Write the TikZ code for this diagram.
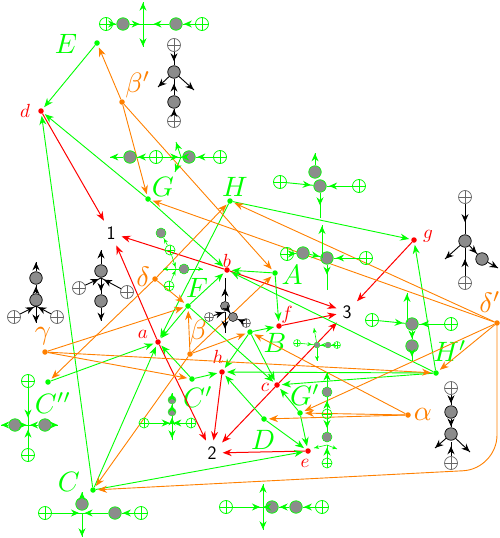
\documentclass[tikz,border=0pt]{standalone}
\usepackage{amsmath}
\usetikzlibrary{arrows.meta, decorations.markings}

\definecolor{limeg}{HTML}{00FF00}
\definecolor{orangeo}{HTML}{FF8000}
\newcommand{\biglab}[1]{\scalebox{2.8}{$#1$}}
\newcommand{\redlab}[1]{\scalebox{1.9}{$#1$}}
\tikzset{
    reddot/.style={circle, fill=red, inner sep=0pt, minimum size=5.5pt},
    greendot/.style={circle, fill=limeg, inner sep=0pt, minimum size=5.5pt},
    orangedot/.style={circle, fill=orangeo, inner sep=0pt, minimum size=5.5pt},
    redarrow/.style={red, line width=1pt, ->, shorten >=2pt},
    greenarrow/.style={limeg, line width=0.9pt, ->, shorten >=2pt},
    orangearrow/.style={orangeo, line width=0.9pt, ->, shorten >=2pt},
    redlabel/.style={text=red, inner sep=0pt},
    greenlabel/.style={text=limeg, inner sep=0pt},
    orangelabel/.style={text=orangeo, inner sep=0pt},
    numlabel/.style={inner sep=4pt, font=\sffamily\fontsize{19}{21}\selectfont},
    plusn/.style={circle, draw, inner sep=0pt, minimum size=#1, path picture={
        \draw (path picture bounding box.north) -- (path picture bounding box.south)
              (path picture bounding box.west) -- (path picture bounding box.east);}},
    gplus/.style={plusn=13pt, limeg, line width=0.8pt},
    gplusm/.style={plusn=10pt, limeg, line width=0.7pt},
    gpluss/.style={plusn=7pt, limeg, line width=0.5pt},
    kplus/.style={plusn=13pt, black!60, line width=0.7pt},
    kplusm/.style={plusn=9pt, black!60, line width=0.6pt},
    blobn/.style={circle, fill=gray!90, inner sep=0pt, minimum size=#1},
    gblob/.style={blobn=12.5pt, draw=limeg, line width=0.7pt},
    gblobm/.style={blobn=10pt, draw=limeg, line width=0.5pt},
    gblobn/.style={blobn=8pt, draw=limeg, line width=0.4pt},
    gblobs/.style={blobn=6pt, draw=limeg, line width=0.3pt},
    kblob/.style={blobn=12.5pt, draw=black, line width=0.7pt},
    kblobm/.style={blobn=9pt, draw=black, line width=0.5pt},
    midtip/.style={postaction={decorate}, decoration={markings,
        mark=at position #1 with {\arrow{Stealth[length=8pt, width=7pt]}}}},
    midtips/.style={postaction={decorate}, decoration={markings,
        mark=at position #1 with {\arrow{Stealth[length=4.5pt, width=4pt]}}}},
    gline/.style={limeg, line width=0.9pt},
    glines/.style={limeg, line width=0.6pt},
    kline/.style={black, line width=0.9pt},
}

\begin{document}
\begin{tikzpicture}[x=1pt, y=-1pt, >={Stealth[length=9pt, width=7pt]}]
    \path[use as bounding box] (0,0) rectangle (500,538);

    % main points
    \foreach \n/\x/\y in {a/158/342, b/227/270, c/277/385, d/41/111, e/308/451, f/279/326, g/414/240, h/222/372}
        \node[reddot] (\n) at (\x,\y) {};
    \foreach \n/\x/\y in {E/97/43, G/148/199, H/230/201, A/275/273, F/188/306, B/250/332, Cp/192/379, Cpp/48/382, C/93/490, D/264/419, Gp/300/413, Hp/436/373}
        \node[greendot] (\n) at (\x,\y) {};
    \foreach \n/\x/\y in {bep/122/102, del/155/279, bet/190/354, gam/45/352, alp/408/415, dep/497/323}
        \node[orangedot] (\n) at (\x,\y) {};
    \node[numlabel] (n1) at (111,233) {1};
    \node[numlabel] (n2) at (212,453) {2};
    \node[numlabel] (n3) at (347,312) {3};
    \coordinate (bend) at (497,469);

    % labels
    \node[redlabel] (ld) at (25,111) {\redlab{d}};
    \node[redlabel] (la) at (143,334) {\redlab{a}};
    \node[redlabel] (lb) at (227,261) {\redlab{b}};
    \node[redlabel] (lc) at (265,387) {\redlab{c}};
    \node[redlabel] (le) at (305,463) {\redlab{e}};
    \node[redlabel] (lf) at (287,315) {\redlab{f}};
    \node[redlabel] (lg) at (428,236) {\redlab{g}};
    \node[redlabel] (lh) at (218,357) {\redlab{h}};
    \node[greenlabel] (lE) at (66,44) {\biglab{E}};
    \node[greenlabel] (lG) at (163,187) {\biglab{G}};
    \node[greenlabel] (lH) at (235,187) {\biglab{H}};
    \node[greenlabel] (lA) at (292,275) {\biglab{A}};
    \node[greenlabel] (lF) at (197,288) {\biglab{F}};
    \node[greenlabel] (lB) at (275,343) {\biglab{B}};
    \node[greenlabel] (lCp) at (198,397) {\biglab{C'}};
    \node[greenlabel] (lCpp) at (53,403) {\biglab{C''}};
    \node[greenlabel] (lC) at (69,482) {\biglab{C}};
    \node[greenlabel] (lD) at (263,440) {\biglab{D}};
    \node[greenlabel] (lGp) at (305,395) {\biglab{G'}};
    \node[greenlabel] (lHp) at (450,351) {\biglab{H'}};
    \node[orangelabel] (lbep) at (138,85) {\biglab{\beta'}};
    \node[orangelabel] (ldel) at (143,277) {\biglab{\delta}};
    \node[orangelabel] (lbet) at (198,332) {\biglab{\beta}};
    \node[orangelabel] (lgam) at (43,336) {\biglab{\gamma}};
    \node[orangelabel] (lalp) at (423,414) {\biglab{\alpha}};
    \node[orangelabel] (ldep) at (490,302) {\biglab{\delta'}};

    % main arrows
    \foreach \a/\b in {d/n1, a/n1, b/n1, b/n3, f/n3, g/n3, c/n3, a/n2, h/n2, c/n2, e/n2}
        \draw[redarrow] (\a) -- (\b);
    \foreach \a/\b in {E/d, C/d, G/d, G/b, F/b, F/a, H/a, H/g, A/b, A/f, B/f, B/h, B/c, F/c, C/a, Cpp/a, Cp/a, Cp/h, D/h, D/e, Gp/c, Gp/e, C/e, Hp/b, Hp/g, Hp/h, Hp/c}
        \draw[greenarrow] (\a) -- (\b);
    \foreach \a/\b in {bep/E, bep/G, bep/A, del/H, del/F, del/Cpp, gam/F, gam/Cp, gam/Hp, bet/F, bet/B, bet/C, bet/A, alp/B, alp/Gp, alp/D, dep/G, dep/H, dep/Hp, dep/Gp}
        \draw[orangearrow] (\a) -- (\b);
    \draw[orangearrow, rounded corners=34pt] (dep) -- (bend) -- (C);

    % small figures
    \foreach \n/\x/\y/\s in {p1a/106/24/gplus, p1b/202/24/gplus, q1a/123/24/gblob, q1b/176/24/gblob,
            p3a/156/157/gplus, p3b/220/157/gplus, q3a/130/157/gblob, q3b/189/157/gblob,
            p4a/280/182/gplus, p4b/359/186/gplus, q4a/315/172/gblob, q4b/320/186/gblob,
            p5a/287/254/gplus, p5b/366/258/gplus, q5a/303/253/gblob, q5b/327/258/gblob,
            p7a/170/250/gplusm, p7b/169/286/gplusm, q7a/161/233/gblobm, q7b/184/269/gblobm,
            p11a/28/381/gplus, p11b/28/455/gplus, q11a/15/425/gblob, q11b/45/425/gblob,
            p12a/144/423/gplusm, p12b/191/423/gplusm, q12a/172/400/gblobn, q12b/172/412/gblobn,
            p13a/45/513/gplus, p13b/141/513/gplus, q13a/82/504/gblob, q13b/115/513/gblob,
            p14a/226/507/gplus, p14b/322/507/gplus, q14a/272/507/gblob, q14b/296/507/gblob,
            p15a/297/343/gpluss, p15b/337/345/gpluss, q15a/317/345/gblobs, q15b/328/345/gblobs,
            p16a/372/320/gplus, p16b/451/324/gplus, q16a/412/324/gblob, q16b/412/346/gblob,
            p17a/327/414/gplusm, p17b/327/463/gplusm, q17a/327/392/gblobm, q17b/327/437/gblobm,
            p2a/174/45/kplus, p2b/174/121/kplus, q2a/174/72/kblob, q2b/174/102/kblob,
            p6a/465/197/kplus, p6b/465/283/kplus, q6a/465/241/kblob, q6b/482/259/kblob,
            p8a/14/317/kplus, p8b/57/317/kplus, q8a/36/278/kblob, q8b/36/300/kblob,
            p9a/79/288/kplus, p9b/127/292/kplus, q9a/101/271/kblob, q9b/101/301/kblob,
            p10a/209/317/kplusm, p10b/246/323/kplusm, q10a/225/306/kblobm, q10b/233/317/kblobm,
            p18a/451/388/kplus, p18b/451/463/kplus, q18a/451/412/kblob, q18b/451/434/kblob}
        \node[\s] (\n) at (\x,\y) {};
    \foreach \n/\x/\y in {k1/143/24, t1/143/2, u1/143/47, t2a/158/87, t2b/194/90, l3/110/157, k3/181/157, t3/176/142, u3/175/172,
            t4/315/153, u4/320/218, t5/322/225, k5/322/258, u5/327/290, t6a/445/259, t6b/498/268,
            k7/176/269, l7/163/269, r7/203/269, t8/36/262, u8/36/323, k8/36/306, k9/101/278, t9/101/250, u9/101/321,
            k10/225/312, t10/225/278, u10/225/333, k11/28/425, l11/1/425, r11/58/425, k12/172/423, t12/172/393, u12/172/440,
            k13/82/513, t13/82/492, u13/82/537, k14/263/507, t14/263/484, u14/263/530, t15/314/328, u15/317/361,
            k16/407/322, t16/407/293, u16/412/361, t17/327/372, k17/327/445, l17/314/448, r17/337/449,
            l18/435/448, r18/470/452, k18/451/442}
        \coordinate (\n) at (\x,\y);
    \foreach \a/\b/\t in {p1a/q1a/.9, q1a/k1/.75, p1b/q1b/.9, q1b/k1/.6, k1/t1/.97, k1/u1/.97,
            q3a/l3/.97, p3a/q3a/.9, p3a/k3/.85, p3b/q3b/.9, q3b/k3/.9, k3/t3/.97, k3/u3/.97,
            p4a/q4b/.9, p4b/q4b/.9, q4a/t4/.97, q4b/u4/.5,
            p5a/q5a/.8, q5a/q5b/.9, p5b/q5b/.9, k5/t5/.97, q5b/u5/.4,
            p11a/k11/.8, p11b/k11/.8, q11a/l11/.97, q11b/r11/.97, q11a/k11/.8, q11b/k11/.8,
            p12a/k12/.9, p12b/k12/.9, k12/u12/.9, q12a/t12/.97, k12/q12b/.8, q12b/q12a/.9,
            p13a/k13/.9, q13b/k13/.9, p13b/q13b/.9, q13a/t13/.97, k13/u13/.97,
            p14a/k14/.9, q14a/k14/.9, q14b/q14a/.9, p14b/q14b/.9, k14/t14/.97, k14/u14/.97,
            p16a/q16a/.9, p16b/q16a/.9, k16/t16/.97, q16a/q16b/.9, q16b/u16/.5,
            q17a/t17/.97, p17a/q17a/.7, p17a/q17b/.7, p17b/k17/.8}
        \draw[gline, midtip=\t] (\a) -- (\b);
    \foreach \a/\b/\t in {p7a/q7a/.85, p7a/k7/.85, p7b/k7/.85, q7b/r7/.97, q7b/l7/.97,
            p15a/q15a/.85, p15b/q15b/.85, q15b/q15a/.85, q15a/t15/.97, q15a/u15/.97,
            k17/l17/.97, k17/r17/.97}
        \draw[glines, midtips=\t] (\a) -- (\b);
    \foreach \a/\b/\t in {p2a/q2a/.7, q2a/t2a/.97, q2a/t2b/.97, q2b/q2a/.7, p2b/q2b/.9,
            p6a/q6a/.6, q6a/t6a/.97, q6a/q6b/.9, q6b/t6b/.97, p6b/q6a/.6,
            q8a/t8/.97, q8b/q8a/.8, q8b/u8/.97, p8a/k8/.85, p8b/k8/.85,
            q9a/t9/.97, q9a/q9b/.8, q9b/u9/.97, p9a/k9/.85, p9b/k9/.85,
            q10a/t10/.55, k10/u10/.8, p10a/k10/.85, p10b/q10b/.85, q10a/q10b/.85,
            p18a/q18a/.8, q18a/q18b/.9, q18b/l18/.97, q18b/r18/.97, p18b/k18/.7}
        \draw[kline, midtip=\t] (\a) -- (\b);
\end{tikzpicture}
\end{document}
